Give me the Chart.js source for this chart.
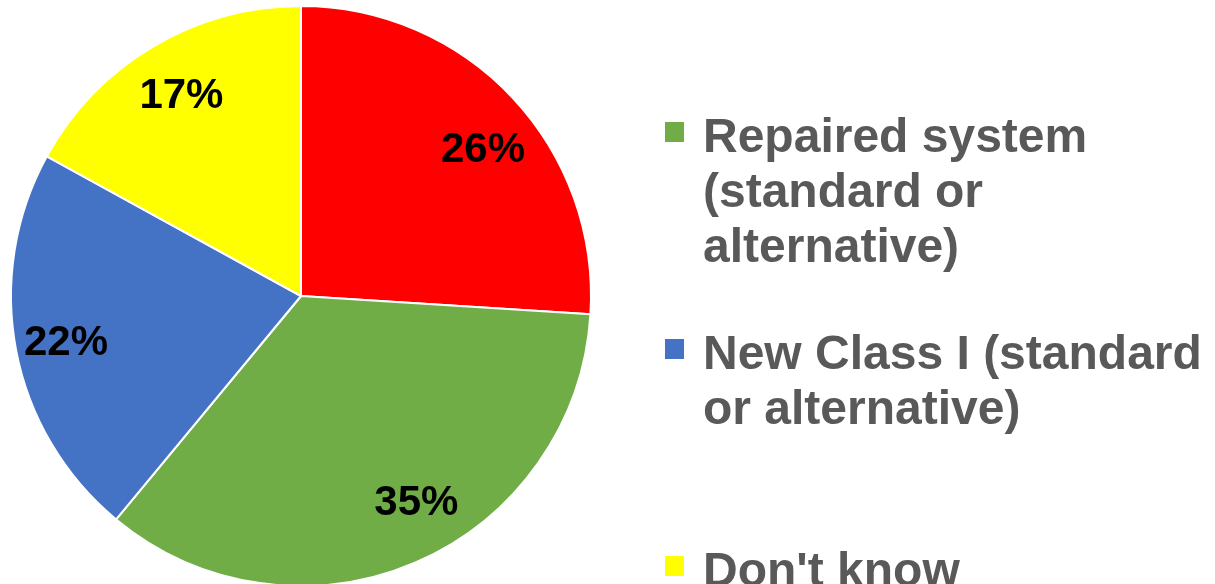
<!DOCTYPE html>
<html>
<head>
<meta charset="utf-8">
<script src="https://cdn.jsdelivr.net/npm/chart.js@4/dist/chart.umd.min.js"></script>
<style>
    html, body { margin: 0; padding: 0; background: #ffffff; }
    #wrap { width: 1215px; height: 584px; }
</style>
</head>
<body>
<div id="wrap"><canvas id="pieChart" width="1215" height="584"></canvas></div>
<script>
// Datos del grafico (el rotulo de la porcion roja queda fuera de la imagen)
const categories = ['', 'Repaired system (standard or alternative)', 'New Class I (standard or alternative)', "Don't know"];
const shares = [26, 35, 22, 17];
const sliceColors = ['#FF0000', '#70AD47', '#4472C4', '#FFFF00'];

// Ajuste fino de la posicion de cada etiqueta (grados, fraccion del radio)
const labelTurn = [4, -6, 0, 0];
const labelDist = [0.81, 0.81, 0.825, 0.81];

// Etiquetas de porcentaje sobre cada porcion
const pctLabels = {
    id: 'pctLabels',
    afterDatasetsDraw(chart) {
        const ctx = chart.ctx;
        const arcs = chart.getDatasetMeta(0).data;
        ctx.save();
        ctx.font = 'bold 42px "Liberation Sans", Arial, sans-serif';
        ctx.fillStyle = '#000000';
        ctx.textAlign = 'center';
        ctx.textBaseline = 'middle';
        arcs.forEach((arc, i) => {
            const mid = (arc.startAngle + arc.endAngle) / 2 + labelTurn[i] * Math.PI / 180;
            const r = arc.outerRadius * labelDist[i];
            ctx.fillText(shares[i] + '%', arc.x + Math.cos(mid) * r, arc.y + Math.sin(mid) * r + 3);
        });
        ctx.restore();
    }
};

// Leyenda a la derecha con texto en varias lineas
const sideLegend = {
    id: 'sideLegend',
    afterDraw(chart) {
        const ctx = chart.ctx;
        const boxX = 665;
        const textX = 703;
        const maxWidth = 1215 - textX - 2;
        const lineH = 55;
        const step = 217;
        const firstBase = 152 - step;
        ctx.save();
        ctx.font = 'bold 48px "Liberation Sans", Arial, sans-serif';
        ctx.textBaseline = 'alphabetic';
        categories.forEach((label, i) => {
            const base = firstBase + i * step;
            ctx.fillStyle = sliceColors[i];
            ctx.fillRect(boxX, base - 30, 19, 20);

            // partir el texto por palabras
            const words = label.split(' ');
            let lines = [];
            let line = '';
            words.forEach(w => {
                const test = line ? line + ' ' + w : w;
                if (line && ctx.measureText(test).width > maxWidth) {
                    lines.push(line);
                    line = w;
                } else {
                    line = test;
                }
            });
            if (line) lines.push(line);

            ctx.fillStyle = '#595959';
            lines.forEach((l, j) => ctx.fillText(l, textX, base + j * lineH));
        });
        ctx.restore();
    }
};

const ctx = document.getElementById('pieChart');

new Chart(ctx, {
    type: 'pie',
    data: {
        labels: categories,
        datasets: [{
            data: shares,
            backgroundColor: sliceColors,
            borderColor: '#ffffff',
            borderWidth: 2
        }]
    },
    options: {
        responsive: false,
        animation: false,
        radius: 290,
        layout: {
            padding: { left: 0, right: 613, top: 8, bottom: 0 }
        },
        plugins: {
            legend: { display: false },
            tooltip: { enabled: false }
        }
    },
    plugins: [pctLabels, sideLegend]
});
</script>
</body>
</html>
